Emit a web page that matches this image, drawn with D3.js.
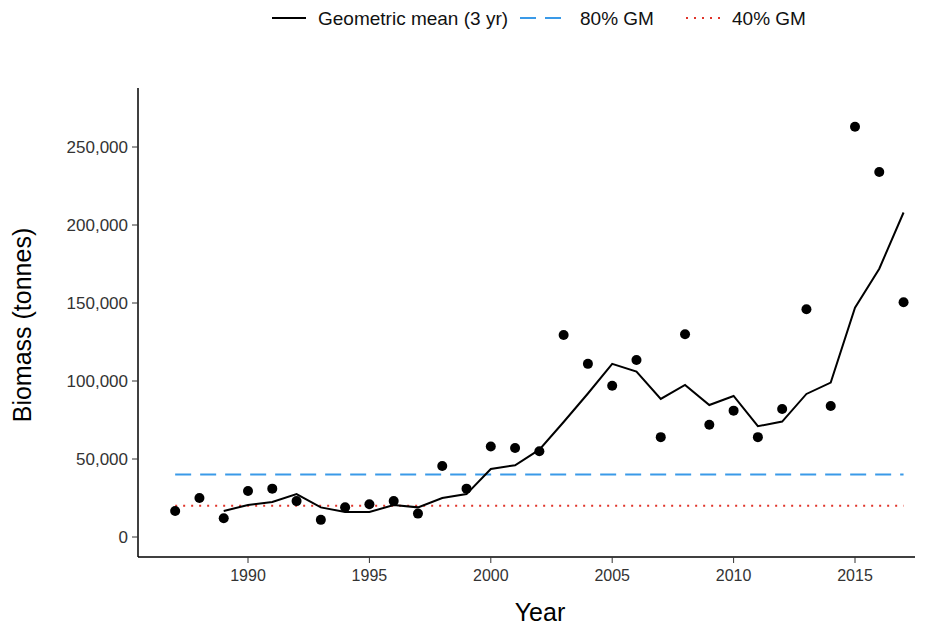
<!DOCTYPE html>
<html>
<head><meta charset="UTF-8"><title>Biomass</title>
<script src="https://cdn.jsdelivr.net/npm/d3@7"></script>
<style>body{margin:0;background:#fff;font-family:"Liberation Sans",Arial,sans-serif}</style>
</head>
<body>
<svg id="chart" width="933" height="628"></svg>
<script>
var years = d3.range(1987, 2018);
var biomass = [16700,25000,12000,29500,31000,23000,11000,19000,21000,23000,15000,45500,31000,58000,57000,55000,129500,111000,97000,113500,64000,130000,72000,81000,64000,82000,146000,84000,263000,234000,150500];
var gmYears = d3.range(1989, 2018);
var gm = [16700,20500,22400,27500,19000,16000,16000,20500,19000,25000,27500,43600,46000,56000,73700,92000,111000,106000,88500,97500,84600,90400,71000,74000,91700,99000,147000,172000,208000];
var gm80 = 40000, gm40 = 20000;
var xTicks = [1990,1995,2000,2005,2010,2015];
var yTicks = [0,50000,100000,150000,200000,250000];

var svg = d3.select('#chart');
var x = d3.scaleLinear().domain([1990, 2015]).range([248, 855]);
var y = d3.scaleLinear().domain([0, 250000]).range([537, 147]);
var pLeft = 138, pBottom = 557, pRight = 915, pTop = 88;

svg.append('line').attr('x1', pLeft).attr('x2', pLeft).attr('y1', pTop).attr('y2', pBottom).attr('stroke', '#000').attr('stroke-width', 1.5);
svg.append('line').attr('x1', pLeft).attr('x2', pRight).attr('y1', pBottom).attr('y2', pBottom).attr('stroke', '#000').attr('stroke-width', 1.5);

xTicks.forEach(function(t){
  svg.append('line').attr('x1', x(t)).attr('x2', x(t)).attr('y1', pBottom).attr('y2', pBottom + 6).attr('stroke', '#333');
  svg.append('text').attr('x', x(t)).attr('y', pBottom + 24).attr('text-anchor', 'middle').attr('font-size', 16).attr('fill', '#333').text(t);
});
yTicks.forEach(function(t){
  svg.append('line').attr('x1', pLeft - 6).attr('x2', pLeft).attr('y1', y(t)).attr('y2', y(t)).attr('stroke', '#333');
  svg.append('text').attr('x', pLeft - 10).attr('y', y(t) + 6).attr('text-anchor', 'end').attr('font-size', 17).attr('fill', '#333').text(d3.format(',')(t));
});
svg.append('text').attr('x', 540).attr('y', 621).attr('text-anchor', 'middle').attr('font-size', 25).text('Year');
svg.append('text').attr('transform', 'translate(31,' + 325 + ') rotate(-90)').attr('text-anchor', 'middle').attr('font-size', 25).text('Biomass (tonnes)');

var x0 = x(1987), x1 = x(2017);
svg.append('line').attr('x1', x0).attr('x2', x1).attr('y1', y(gm80)).attr('y2', y(gm80)).attr('stroke', '#3a9ae8').attr('stroke-width', 2).attr('stroke-dasharray', '16,9');
svg.append('line').attr('x1', x0).attr('x2', x1).attr('y1', y(gm40)).attr('y2', y(gm40)).attr('stroke', '#e0342a').attr('stroke-width', 2).attr('stroke-dasharray', '2,6');

svg.append('path').datum(gmYears.map(function(d, i){ return [d, gm[i]]; }))
  .attr('d', d3.line().x(function(d){ return x(d[0]); }).y(function(d){ return y(d[1]); }))
  .attr('fill', 'none').attr('stroke', '#000').attr('stroke-width', 2);

svg.selectAll('circle.pt').data(years).enter().append('circle')
  .attr('cx', function(d){ return x(d); }).attr('cy', function(d, i){ return y(biomass[i]); })
  .attr('r', 5).attr('fill', '#000');

var leg = [
  {x: 272, w: 34, label: 'Geometric mean (3 yr)', color: '#000', dash: null},
  {x: 520, w: 48, label: '80% GM', color: '#3a9ae8', dash: '16,9'},
  {x: 686, w: 34, label: '40% GM', color: '#e0342a', dash: '2,6'}
];
leg.forEach(function(l){
  svg.append('line').attr('x1', l.x).attr('x2', l.x + l.w).attr('y1', 18).attr('y2', 18).attr('stroke', l.color).attr('stroke-width', 2).attr('stroke-dasharray', l.dash);
  svg.append('text').attr('x', l.x + l.w + 12).attr('y', 25).attr('font-size', 19).attr('fill', '#111').text(l.label);
});
</script>
</body>
</html>
